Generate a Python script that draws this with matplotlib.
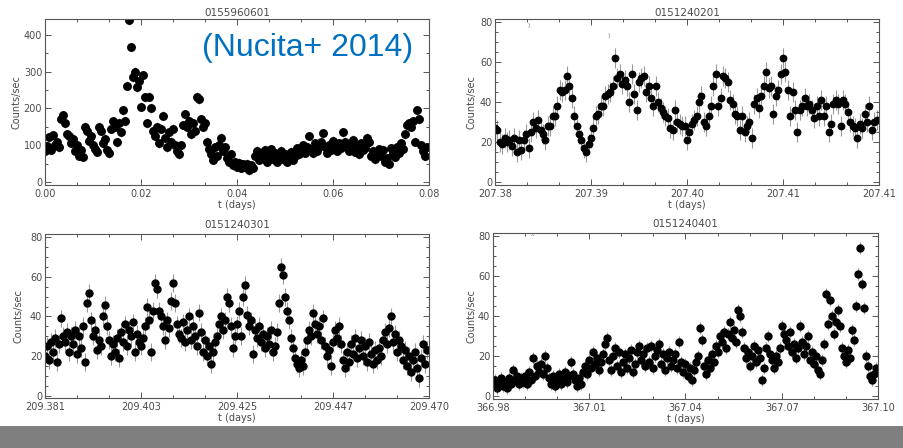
import numpy as np
import matplotlib.pyplot as plt
from matplotlib.patches import Rectangle
from matplotlib.ticker import AutoMinorLocator, MultipleLocator, FixedLocator

# Light curves (counts/sec) for the four XMM observations, one value per time bin
obs1_counts = [
    85, 98, 122, 88, 128, 100, 110, 95, 170, 182, 160, 130,
    125, 105, 118, 85, 100, 72, 88, 68, 150, 140, 112, 125,
    100, 90, 82, 150, 140, 105, 118, 88, 78, 145, 165, 150,
    108, 160, 135, 195, 165, 262, 440, 367, 285, 300, 258, 275,
    205, 290, 230, 160, 232, 200, 140, 125, 150, 105, 145, 180,
    120, 95, 135, 110, 145, 100, 85, 75, 100, 155, 185, 150,
    165, 130, 160, 140, 232, 225, 170, 150, 160, 110, 90, 75,
    60, 95, 70, 100, 120, 85, 95, 65, 55, 75, 45, 55,
    42, 52, 38, 48, 40, 50, 32, 45, 38, 70, 85, 60,
    80, 65, 88, 55, 72, 90, 62, 78, 55, 70, 85, 62,
    75, 55, 68, 82, 60, 70, 92, 75, 85, 100, 80, 95,
    125, 90, 78, 105, 85, 98, 110, 132, 95, 80, 102, 88,
    112, 95, 85, 105, 92, 135, 110, 95, 85, 100, 115, 82,
    98, 75, 105, 88, 92, 120, 110, 70, 85, 62, 78, 90,
    72, 88, 55, 65, 50, 92, 78, 68, 95, 80, 105, 90,
    130, 155, 160, 150, 165, 110, 195, 170, 100, 85, 70, 95,
]
obs2_counts = [
    27, 26, 20, 19, 22, 20, 21, 18, 22, 15, 21, 16, 21, 24, 17, 25, 30, 27, 31, 26,
    24, 21, 28, 28, 33, 33, 38, 46, 45, 46, 53, 48, 42, 33, 28, 24, 21, 17, 15, 19,
    22, 27, 33, 34, 38, 38, 43, 44, 45, 48, 62, 52, 54, 49, 51, 48, 40, 54, 44, 36,
    50, 52, 53, 45, 48, 42, 38, 48, 40, 37, 35, 33, 32, 27, 26, 36, 30, 29, 28, 28,
    21, 25, 29, 31, 33, 40, 43, 30, 28, 33, 38, 48, 54, 38, 42, 53, 52, 50, 41, 39,
    34, 33, 26, 33, 25, 28, 30, 22, 39, 42, 37, 43, 48, 55, 47, 48, 34, 43, 46, 54,
    62, 55, 46, 33, 45, 36, 25, 36, 38, 42, 38, 39, 36, 32, 38, 33, 41, 33, 38, 25,
    29, 39, 41, 39, 28, 41, 39, 35, 30, 28, 27, 22, 29, 27, 34, 30, 38, 26, 30, 31,
]
obs3_counts = [
    20, 25, 18, 27, 22, 29, 17, 26, 39, 30, 27, 32, 22, 30, 26, 33,
    21, 30, 24, 35, 17, 47, 52, 38, 30, 33, 23, 28, 25, 40, 46, 35,
    28, 20, 26, 22, 29, 19, 32, 27, 36, 25, 33, 30, 37, 22, 31, 27,
    25, 29, 35, 45, 38, 22, 43, 57, 54, 43, 40, 35, 28, 38, 34, 48,
    57, 47, 36, 31, 29, 37, 27, 33, 40, 28, 35, 30, 25, 42, 32, 22,
    28, 20, 25, 16, 22, 27, 30, 36, 40, 33, 38, 50, 47, 35, 24, 30,
    36, 43, 30, 50, 56, 41, 35, 38, 21, 33, 29, 35, 27, 31, 24, 30,
    26, 33, 22, 25, 32, 47, 65, 61, 50, 43, 38, 29, 24, 19, 16, 14,
    18, 15, 22, 28, 33, 30, 42, 36, 31, 35, 28, 39, 25, 20, 23, 15,
    27, 33, 29, 35, 26, 18, 14, 22, 17, 26, 21, 29, 19, 24, 28, 20,
    25, 17, 27, 21, 16, 23, 18, 24, 20, 28, 32, 26, 34, 40, 27, 31,
    22, 28, 25, 18, 23, 15, 20, 12, 18, 22, 14, 9, 19, 26, 16, 23,
]
obs4_counts = [
    5, 8, 4, 7, 9, 5, 7, 4, 9, 6, 13, 8, 10, 6, 9, 7,
    10, 6, 12, 8, 19, 10, 15, 12, 16, 11, 20, 14, 9, 6, 10, 5,
    8, 11, 6, 9, 12, 7, 10, 17, 11, 8, 5, 9, 6, 12, 15, 11,
    18, 14, 22, 16, 19, 13, 17, 21, 26, 29, 18, 13, 20, 24, 15, 22,
    12, 17, 21, 14, 19, 23, 12, 16, 22, 25, 18, 21, 15, 24, 17, 25,
    14, 20, 23, 26, 16, 21, 13, 19, 22, 15, 18, 21, 14, 27, 17, 12,
    16, 10, 14, 8, 13, 17, 20, 34, 28, 15, 11, 18, 14, 21, 17, 25,
    22, 30, 27, 32, 24, 31, 37, 29, 33, 27, 43, 40, 32, 24, 19, 22,
    15, 20, 25, 17, 23, 19, 8, 14, 24, 30, 21, 18, 14, 20, 17, 24,
    35, 31, 28, 25, 32, 22, 26, 19, 24, 35, 27, 21, 25, 30, 18, 22,
    16, 20, 13, 11, 18, 26, 51, 36, 48, 40, 31, 37, 43, 35, 24, 20,
    17, 23, 19, 33, 28, 45, 61, 74, 56, 44, 20, 15, 10, 8, 11, 14,
]

# Typical 1-sigma error per bin
obs_err = [12, 5, 4.5, 3]

obs_ids = ['0155960601', '0151240201', '0151240301', '0151240401']
t_ranges = [(0.0, 0.08), (207.3825, 207.4125), (209.381, 209.470), (366.98, 367.10)]
xtick_labels = [
    ['0.00', '0.02', '0.04', '0.06', '0.08'],
    ['207.38', '207.39', '207.40', '207.41', '207.41'],
    ['209.381', '209.403', '209.425', '209.447', '209.470'],
    ['366.98', '367.01', '367.04', '367.07', '367.10'],
]

W, H = 904, 448
fig = plt.figure(figsize=(W / 100, H / 100), dpi=100)
fig.patch.set_facecolor('white')

txt = '#4a4a4a'
frame = '#555555'


def px_rect(x0, y0, x1, y1):
    return [x0 / W, 1 - y1 / H, (x1 - x0) / W, (y1 - y0) / H]


panels = [
    dict(rect=px_rect(45, 19, 429, 185), ylim=(-8, 443), ymaj=100, ymin=50,
         tpad=2.5, ylx=-0.062, ms=5.4),
    dict(rect=px_rect(495, 19, 879, 185), ylim=(-1.5, 81.5), ymaj=20, ymin=5,
         tpad=2.5, ylx=-0.049, ms=4.6),
    dict(rect=px_rect(45, 234, 429, 398), ylim=(-1, 81.5), ymaj=20, ymin=5,
         tpad=4, ylx=-0.055, ms=5.0),
    dict(rect=px_rect(493, 233, 878, 399), ylim=(-1.5, 81.5), ymaj=20, ymin=5,
         tpad=4, ylx=-0.044, ms=5.0),
]
all_counts = [obs1_counts, obs2_counts, obs3_counts, obs4_counts]

for k, p in enumerate(panels):
    ax = fig.add_axes(p['rect'])
    counts = np.array(all_counts[k], dtype=float)
    t0, t1 = t_ranges[k]
    t = t0 + np.arange(len(counts)) * (t1 - t0) / len(counts)
    err = obs_err[k]

    ax.vlines(t, counts - err, counts + err, color='0.6', lw=0.8, zorder=1)
    ax.plot(t, counts, 'o', color='black', ms=p['ms'], zorder=2)

    ax.set_xlim(t0, t1)
    ax.set_ylim(*p['ylim'])
    ax.xaxis.set_major_locator(FixedLocator(np.linspace(t0, t1, 5)))
    ax.set_xticklabels(xtick_labels[k])
    ax.xaxis.set_minor_locator(AutoMinorLocator(3))
    ax.yaxis.set_major_locator(MultipleLocator(p['ymaj']))
    ax.yaxis.set_minor_locator(MultipleLocator(p['ymin']))

    ax.tick_params(which='both', direction='in', top=True, right=True,
                   color=frame, width=0.7, labelsize=7, labelcolor=txt)
    ax.tick_params(which='major', length=4)
    ax.tick_params(which='minor', length=2)
    ax.tick_params(axis='x', pad=3)
    ax.tick_params(axis='y', pad=2)
    for s in ax.spines.values():
        s.set_color(frame)
        s.set_linewidth(0.8)

    ax.set_title(obs_ids[k], fontsize=7.5, color=txt, pad=p['tpad'])
    ax.set_xlabel('t (days)', fontsize=7, color=txt, labelpad=0.5)
    ax.set_ylabel('Counts/sec', fontsize=7, color=txt)
    ax.yaxis.set_label_coords(p['ylx'], 0.5)

# reference tag
fig.text(202 / W, 1 - 48 / H, '(Nucita+ 2014)', fontsize=23, color='#0070C0',
         family='Liberation Sans', ha='left', va='center')

# small leftover marks at the top of two panels
fig.text(529 / W, 1 - 25 / H, ')', fontsize=4.5, color='0.45', ha='center', va='center')
fig.text(609 / W, 1 - 35 / H, ')', fontsize=4.5, color='0.45', ha='center', va='center')
fig.text(532 / W, 1 - 237 / H, '^', fontsize=4.5, color='0.45', ha='center', va='center')

# grey strip along the bottom
fig.patches.append(Rectangle((0, 0), 1, 22 / H, transform=fig.transFigure,
                             facecolor='#7f7f7f', edgecolor='none'))

fig.savefig('out.png', dpi=100)
